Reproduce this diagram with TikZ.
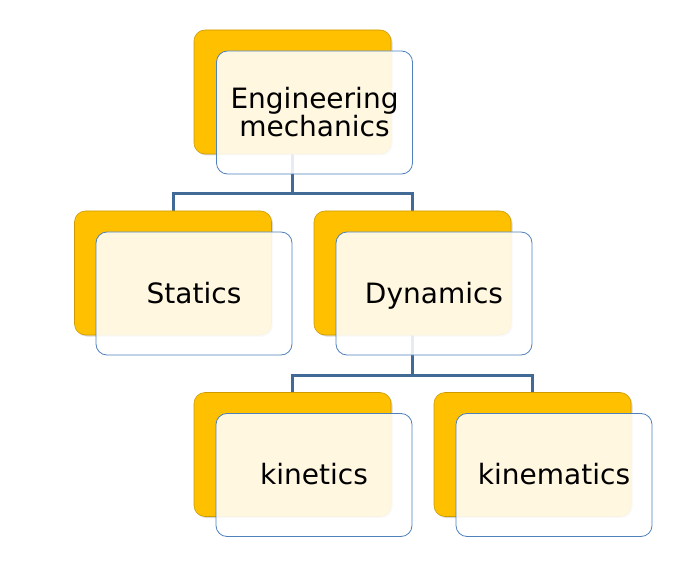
\documentclass[tikz,border=0pt]{standalone}
\usepackage{fontspec}
\setmainfont{DejaVu Sans}
\usetikzlibrary{shadows, backgrounds}
\definecolor{bfill}{RGB}{255,192,  0}
\definecolor{bline}{RGB}{205,155,  0}
\definecolor{fline}{RGB}{ 79,129,189}
\definecolor{ccol} {RGB}{ 65,106,150}
\tikzset{
  BK/.style={fill=bfill, draw=bline, line width=0.6pt, rounded corners=11pt,
             minimum width=197pt, minimum height=124pt,
             drop shadow={shadow xshift=1.5pt, shadow yshift=-1.5pt, opacity=0.3}},
  FR/.style={fill=white, fill opacity=0.88, text opacity=1, draw=fline,
             draw opacity=1, line width=0.8pt, rounded corners=11pt,
             minimum width=196pt, minimum height=123pt, inner sep=0pt,
             align=center, font=\fontsize{28}{28}\selectfont},
  FS/.style={FR, text height=23pt, text depth=4pt},
  CN/.style={ccol, line width=3pt},
}

\begin{document}
\begin{tikzpicture}[x=1pt, y=-1pt]
  \useasboundingbox (0,0) rectangle (698,585);

  % back boxes
  \node[BK] (eng)  at (292.5, 92)  {};
  \node[BK] (stat) at (173,  273)  {};
  \node[BK] (dyn)  at (412.5,273)  {};
  \node[BK] (kint) at (292.5,454.5) {};
  \node[BK] (kinm) at (532.5,454.5) {};

  % front boxes
  \node[FR] (engT)  at (314.5,112.5) {Engineering\\mechanics};
  \node[FS] (statT) at (194,  293.5) {Statics};
  \node[FS] (dynT)  at (434,  293.5) {Dynamics};
  \node[FS] (kintT) at (314,  475)   {kinetics};
  \node[FS] (kinmT) at (554,  475)   {kinematics};

  % connectors
  \begin{scope}[on background layer]
    \draw[CN] (eng.south) -- ++(0,39) -| (stat.north);
    \draw[CN] (eng.south) -- ++(0,39) -| (dyn.north);
    \draw[CN] (dyn.south) -- ++(0,40) -| (kint.north);
    \draw[CN] (dyn.south) -- ++(0,40) -| (kinm.north);
  \end{scope}
\end{tikzpicture}
\end{document}
